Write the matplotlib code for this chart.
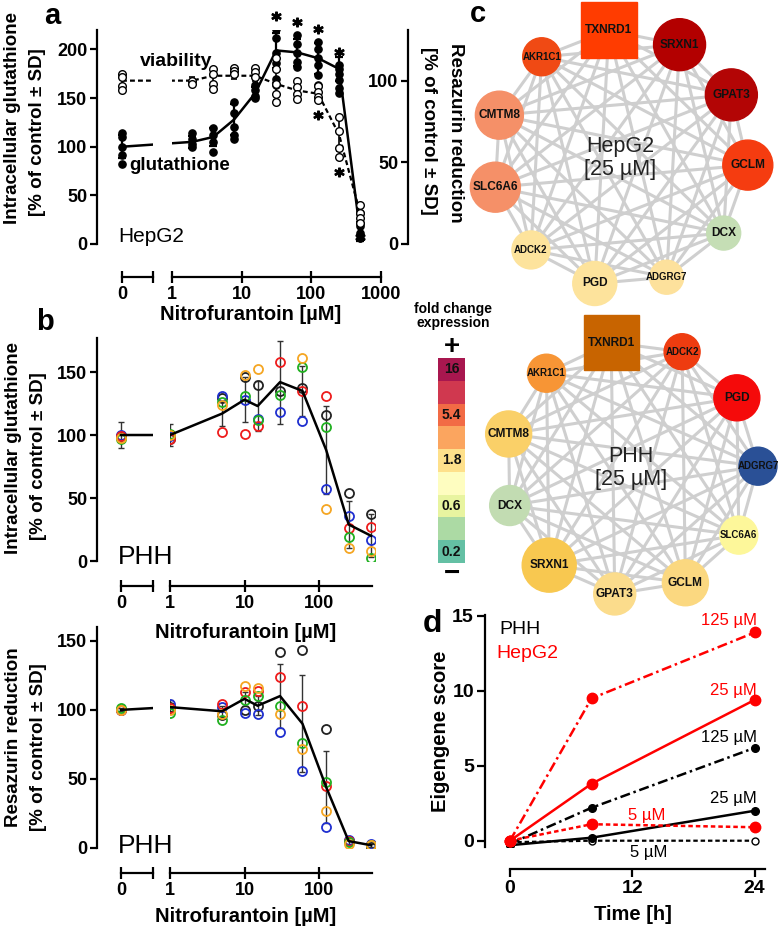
import numpy as np
import matplotlib
matplotlib.use('Agg')
import matplotlib.pyplot as plt
from matplotlib.patches import Circle, Rectangle
from matplotlib.colors import ListedColormap
from matplotlib.ticker import NullLocator

plt.rcParams['font.family'] = ['Liberation Sans', 'DejaVu Sans']
plt.rcParams['font.weight'] = 'bold'
plt.rcParams['axes.linewidth'] = 1.6

# ---------------- data ----------------
# panel a: HepG2, glutathione (left axis) and viability (right axis)
conc_a = [0, 1.95, 3.9, 7.8, 15.6, 31.25, 62.5, 125, 250, 500]
gsh_a_pts = [[114, 110, 100, 92, 82], [114, 108, 103, 100], [119, 112, 105, 95],
             [146, 135, 120, 112, 108], [163, 158, 152, 150],
             [221, 212, 196, 186, 170, 163], [215, 206, 196, 187, 182],
             [208, 200, 191, 184, 174, 163], [184, 180, 175, 169, 160, 155],
             [32, 22, 18, 11, 6]]
gsh_a_mean = [100, 105, 110, 128, 155, 199, 197, 191, 180, 13]
gsh_a_sd = [12, 6, 9, 16, 6, 18, 14, 16, 12, 10]
via_a_pts = [[104, 102, 97, 94], [100, 98], [107, 104, 98, 95], [108, 106, 104],
             [108, 105, 102], [114, 107, 98, 92, 87], [100, 96, 92, 89],
             [97, 93, 90, 88], [78, 69, 59, 53], [24, 19, 16, 13]]
via_a_mean = [100, 100, 103, 103, 103, 98, 94, 92, 67, 19]
via_a_sd = [4, 2, 5, 2, 3, 10, 5, 4, 10, 5]
gsh_a_sig = [31.25, 62.5, 125, 250]
via_a_sig = [125, 250, 500]

# panel b: PHH, five donors
conc_b = [0, 1, 5, 10, 15, 30, 60, 125, 250, 500]
gsh_b_black = [99, 97, 129, 146, 140, 135, 137, 116, 54, 37]
gsh_b_blue = [100, 99, 131, 128, 113, 118, 111, 57, 36, 17]
gsh_b_red = [99, 97, 102, 101, 107, 158, 135, 131, 26, 27]
gsh_b_green = [97, 101, 126, 131, 112, 132, 154, 106, 19, 2]
gsh_b_orange = [98, 100, 124, 148, 152, 184, 161, 41, 10, 8]
gsh_b_mean = [100, 100, 117, 128, 123, 142, 135, 88, 29, 20]
gsh_b_sd = [10, 9, 10, 18, 20, 33, 20, 35, 19, 17]

res_b_black = [100, 102, 96, 100, 103, 142, 143, 86, 5, 1]
res_b_blue = [100, 104, 102, 98, 97, 84, 56, 15, 6, 3]
res_b_red = [100, 101, 104, 113, 114, 124, 103, 45, 5, 2]
res_b_green = [101, 98, 93, 107, 110, 103, 76, 48, 4, 2.5]
res_b_orange = [100, 100, 97, 117, 116, 97, 72, 27, 3, 2]
res_b_mean = [100, 102, 99, 108, 103, 110, 90, 44, 5, 2]
res_b_sd = [1, 5, 4, 5, 7, 23, 35, 26, 2, 1]

# panel c: networks at 25 uM
genes_hep = ['TXNRD1', 'SRXN1', 'GPAT3', 'GCLM', 'DCX', 'ADGRG7', 'PGD',
             'ADCK2', 'SLC6A6', 'CMTM8', 'AKR1C1']
colors_hep = ['#ff3c00', '#b30000', '#b30505', '#f53c10', '#c5deb5', '#fde19c',
              '#fde39c', '#fde39c', '#f59068', '#f59068', '#f04a14']
sizes_hep = [28, 26, 26, 25, 17, 17, 22, 19, 25, 24, 19]
genes_phh = ['TXNRD1', 'ADCK2', 'PGD', 'ADGRG7', 'SLC6A6', 'GCLM', 'GPAT3',
             'SRXN1', 'DCX', 'CMTM8', 'AKR1C1']
colors_phh = ['#c86400', '#ee3c10', '#f50a0a', '#2a5096', '#fdf79a', '#fbd880',
              '#fbdc8c', '#f8c850', '#c2dcb2', '#fad068', '#f79535']
sizes_phh = [27.5, 18, 23, 19, 19, 23, 21, 27, 20, 23, 19]
cbar_labels = ['16', '', '5.4', '', '1.8', '', '0.6', '', '0.2']
cbar_colors = ['#a8174f', '#d0384f', '#f26b45', '#fba55f', '#fee08b', '#fefdc0',
               '#e8f4a0', '#acdaa4', '#64c0a4']

# panel d: eigengene scores
time_h = [0, 8, 24]
hep_125 = [0.0, 9.5, 13.9]
hep_25 = [0.0, 3.8, 9.4]
hep_5 = [0.0, 1.1, 0.9]
phh_125 = [-0.2, 2.2, 6.2]
phh_25 = [-0.3, 0.2, 2.0]
phh_5 = [-0.1, 0.0, 0.0]

# ---------------- layout helpers ----------------
W, H = 780, 934
PT = 0.72
fig = plt.figure(figsize=(W / 100, H / 100), dpi=100)


def box(x0, y0, x1, y1):
    return [x0 / W, 1 - y1 / H, (x1 - x0) / W, (y1 - y0) / H]


def ftext(x, y, s, **kw):
    kw.setdefault('ha', 'center')
    kw.setdefault('va', 'center')
    fig.text(x / W, 1 - y / H, s, **kw)


def broken(top, bottom, ylim, one_px, dec_px, right_px, end_val, spine_px,
           zero_px=121, brk_px=153, left_px=97):
    to_val = lambda px: 10 ** ((px - one_px) / dec_px)
    z = to_val(zero_px)
    axl = fig.add_axes(box(left_px, top, brk_px, bottom))
    axr = fig.add_axes(box(one_px, top, right_px, bottom))
    for ax in (axl, axr):
        ax.set_xscale('log')
        ax.set_ylim(*ylim)
        ax.patch.set_visible(False)
        ax.spines[['top', 'right']].set_visible(False)
        ax.spines['bottom'].set_position(('outward', (spine_px - bottom) * PT))
        ax.xaxis.set_minor_locator(NullLocator())
        ax.tick_params(axis='x', direction='inout', length=9, width=1.6,
                       labelsize=13, pad=2)
        ax.tick_params(axis='y', direction='out', length=5, width=1.6,
                       labelsize=13, pad=2)
    axl.set_xlim(to_val(left_px), to_val(brk_px))
    axr.set_xlim(1, to_val(right_px))
    axl.spines['bottom'].set_bounds(z, to_val(brk_px))
    axr.spines['bottom'].set_bounds(1, end_val)
    axl.set_xticks([z, to_val(brk_px)], ['0', ''])
    axr.spines['left'].set_visible(False)
    axr.tick_params(axis='y', left=False, labelleft=False)
    return axl, axr, z


# ---------------- panel a ----------------
axLa, axRa, za = broken(30, 244, (0, 220), 172, 69.67, 382, 1000, 277, zero_px=122)
axRa.set_xticks([1, 10, 100, 1000], ['1', '10', '100', '1000'])
axLa.set_yticks([0, 50, 100, 150, 200])
x_a = [za] + conc_a[1:]
for ax in (axLa, axRa):
    ax.plot(x_a, gsh_a_mean, color='k', lw=1.8, zorder=3)
    ax.errorbar(x_a, gsh_a_mean, yerr=gsh_a_sd, fmt='none', ecolor='k',
                elinewidth=1.6, capsize=3, capthick=1.6, zorder=3)
    for x, pts in zip(x_a, gsh_a_pts):
        ax.plot([x] * len(pts), pts, 'o', color='k', ms=5.2, zorder=4)
    tw = ax.twinx()
    tw.set_ylim(0, 131)
    tw.axis('off')
    tw.plot(x_a, via_a_mean, color='k', lw=1.6, ls=(0, (2.2, 1.4)), zorder=3)
    tw.errorbar(x_a, via_a_mean, yerr=via_a_sd, fmt='none', ecolor='k',
                elinewidth=1.2, capsize=2.5, capthick=1.2, zorder=3)
    for x, pts in zip(x_a, via_a_pts):
        tw.plot([x] * len(pts), pts, 'o', mfc='white', mec='k', mew=1.0,
                ms=5.5, zorder=5)
    if ax is axRa:
        tw.plot(via_a_sig, [min(via_a_pts[conc_a.index(c)]) - 9 for c in via_a_sig],
                ls='none', marker='$*$', ms=6.5, color='k', clip_on=False)
# twinx switches the left ticks back on, so hide them again
axRa.tick_params(axis='y', left=False, labelleft=False)
axRa.plot(gsh_a_sig, [max(gsh_a_pts[conc_a.index(c)]) + 13 for c in gsh_a_sig],
          ls='none', marker='$*$', ms=6.5, color='k', clip_on=False)

axSa = fig.add_axes(box(408, 30, 440, 244))
axSa.set_ylim(0, 131)
axSa.patch.set_visible(False)
axSa.spines[['top', 'right', 'bottom']].set_visible(False)
axSa.set_xticks([])
axSa.set_yticks([0, 50, 100])
axSa.tick_params(axis='y', direction='out', length=5, width=1.6, labelsize=13, pad=2)

ftext(13, 118, 'Intracellular glutathione', rotation=90, fontsize=13.5)
ftext(38, 132, '[% of control \u00b1 SD]', rotation=90, fontsize=13.5)
ftext(455, 133, 'Resazurin reduction', rotation=270, fontsize=13.5)
ftext(428, 131, '[% of control \u00b1 SD]', rotation=270, fontsize=13.5)
ftext(251, 315, 'Nitrofurantoin [\u00b5M]', fontsize=14.5)
ftext(176, 62, 'viability', fontsize=14)
ftext(180, 166, 'glutathione', fontsize=13.5)
ftext(118, 237, 'HepG2', ha='left', fontsize=15, fontweight='normal')

# ---------------- panel b ----------------
donor_cols = ['#222222', '#1f2fd0', '#ee1c1c', '#20b020', '#f5a623']


def donors(axl, axr, z, series, mean, sd):
    x = [z] + conc_b[1:]
    for ax in (axl, axr):
        ax.errorbar(x, mean, yerr=sd, fmt='none', ecolor='#333333', elinewidth=1.0,
                    capsize=2.5, capthick=1.0, zorder=2)
        for col, vals in zip(donor_cols, series):
            ax.plot(x, vals, 'o', mfc='none', mec=col, mew=1.3, ms=6.5, zorder=3)
        ax.plot(x, mean, color='k', lw=1.8, zorder=4)


axLb, axRb, zb = broken(338, 561, (0, 177), 170, 74.5, 375, 515, 586)
axRb.set_xticks([1, 10, 100], ['1', '10', '100'])
axLb.set_yticks([0, 50, 100, 150])
donors(axLb, axRb, zb, [gsh_b_black, gsh_b_blue, gsh_b_red, gsh_b_green, gsh_b_orange],
       gsh_b_mean, gsh_b_sd)

axLc, axRc, zc = broken(627, 848, (0, 160), 170, 74.5, 375, 515, 873)
axRc.set_xticks([1, 10, 100], ['1', '10', '100'])
axLc.set_yticks([0, 50, 100, 150])
donors(axLc, axRc, zc, [res_b_black, res_b_blue, res_b_red, res_b_green, res_b_orange],
       res_b_mean, res_b_sd)

ftext(14, 448, 'Intracellular glutathione', rotation=90, fontsize=13.5)
ftext(39, 456, '[% of control \u00b1 SD]', rotation=90, fontsize=13.5)
ftext(14, 737, 'Resazurin reduction', rotation=90, fontsize=13.5)
ftext(39, 747, '[% of control \u00b1 SD]', rotation=90, fontsize=13.5)
ftext(246, 632, 'Nitrofurantoin [\u00b5M]', fontsize=14.5)
ftext(246, 917, 'Nitrofurantoin [\u00b5M]', fontsize=14.5)
ftext(118, 557, 'PHH', ha='left', fontsize=19, fontweight='normal')
ftext(118, 846, 'PHH', ha='left', fontsize=19, fontweight='normal')


# ---------------- panel c ----------------
def network(top, center, radius, start_deg, genes, colors, sizes, title):
    ax = fig.add_axes(box(468, top, 780, top + 312))
    ax.set_xlim(468, 780)
    ax.set_ylim(top + 312, top)
    ax.axis('off')
    n = len(genes)
    ang = np.deg2rad(start_deg - 360.0 / n * np.arange(n))
    xs = center[0] + radius * np.cos(ang)
    ys = center[1] - radius * np.sin(ang)
    for i in range(n):
        for j in range(i + 1, n):
            ax.plot([xs[i], xs[j]], [ys[i], ys[j]], color='#cfcfcf', lw=2.2,
                    zorder=1, solid_capstyle='round')
    for g, c, s, x, y in zip(genes, colors, sizes, xs, ys):
        if g == 'TXNRD1':
            ax.add_patch(Rectangle((x - s, y - s), 2 * s, 2 * s, color=c, zorder=2))
        else:
            ax.add_patch(Circle((x, y), s, color=c, zorder=2))
        fs = 8.6 if (s >= 21 or len(g) <= 4) else 7.0
        ax.text(x, y, g, ha='center', va='center', fontsize=fs, color='#111111', zorder=3)
    ax.text(center[0], center[1], title, ha='center', va='center', fontsize=15.5,
            fontweight='normal', color='#222222', linespacing=1.1, zorder=3)


network(0, (620, 158), 128, 95, genes_hep, colors_hep, sizes_hep, 'HepG2\n[25 \u00b5M]')
network(312, (631, 468), 127, 99, genes_phh, colors_phh, sizes_phh, 'PHH\n[25 \u00b5M]')

axcb = fig.add_axes(box(438, 358, 465, 563))
axcb.imshow(np.arange(len(cbar_colors))[:, None], cmap=ListedColormap(cbar_colors),
            aspect='auto', extent=(0, 1, len(cbar_colors), 0))
axcb.axis('off')
for i, lab in enumerate(cbar_labels):
    axcb.text(0.5, i + 0.5, lab, ha='center', va='center', fontsize=10, color='#111111')
ftext(453, 316, 'fold change\nexpression', fontsize=10, linespacing=1.05)
ftext(452, 347, '+', fontsize=20)
ftext(452, 574, '\u2212', fontsize=20)

# ---------------- panel d ----------------
axd = fig.add_axes(box(485, 614.5, 771, 846.7))
axd.set_xlim(-2.45, 25.6)
axd.set_ylim(-0.4, 15.1)
axd.patch.set_visible(False)
axd.spines[['top', 'right']].set_visible(False)
axd.spines['bottom'].set_position(('outward', 22 * PT))
axd.spines['bottom'].set_bounds(0, 25)
axd.set_xticks([0, 12, 24])
axd.set_yticks([0, 5, 10, 15])
axd.tick_params(direction='out', length=6, width=1.6, labelsize=14, pad=2)

dashdot = (0, (4, 1.5, 1, 1.5))
axd.plot(time_h, phh_5, color='k', lw=1.6, ls=(0, (2, 1.3)), marker='o', ms=5,
         mfc='white', mec='k', mew=1)
axd.plot(time_h, phh_25, color='k', lw=1.8, marker='o', ms=5.5)
axd.plot(time_h, phh_125, color='k', lw=1.8, ls=dashdot, marker='o', ms=5.5)
axd.plot(time_h, hep_5, color='red', lw=1.8, ls=(0, (1.8, 1.2)), marker='o', ms=7.5)
axd.plot(time_h, hep_25, color='red', lw=1.8, marker='o', ms=7.5)
axd.plot(time_h, hep_125, color='red', lw=1.8, ls=dashdot, marker='o', ms=7.5)

lab_kw = dict(ha='right', va='center', fontsize=12, fontweight='normal')
axd.text(24.2, 14.73, '125 \u00b5M', color='red', **lab_kw)
axd.text(24.2, 10.06, '25 \u00b5M', color='red', **lab_kw)
axd.text(24.2, 6.86, '125 \u00b5M', color='k', **lab_kw)
axd.text(24.2, 2.85, '25 \u00b5M', color='k', **lab_kw)
axd.text(13.4, 1.71, '5 \u00b5M', color='red', ha='center', va='center',
         fontsize=12, fontweight='normal')
axd.text(13.6, -0.82, '5 \u00b5M', color='k', ha='center', va='center',
         fontsize=12, fontweight='normal')
axd.text(-1.0, 14.07, 'PHH', color='k', ha='left', va='center', fontsize=14,
         fontweight='normal')
axd.text(-1.3, 12.53, 'HepG2', color='red', ha='left', va='center', fontsize=14,
         fontweight='normal')

ftext(440, 731, 'Eigengene score', rotation=90, fontsize=14.5)
ftext(633, 915, 'Time [h]', fontsize=14.5)

# panel letters
ftext(52, 16, 'a', fontsize=21)
ftext(45, 322, 'b', fontsize=21)
ftext(478, 14, 'c', fontsize=21)
ftext(432, 624, 'd', fontsize=23)

fig.savefig('out.png', dpi=100)
